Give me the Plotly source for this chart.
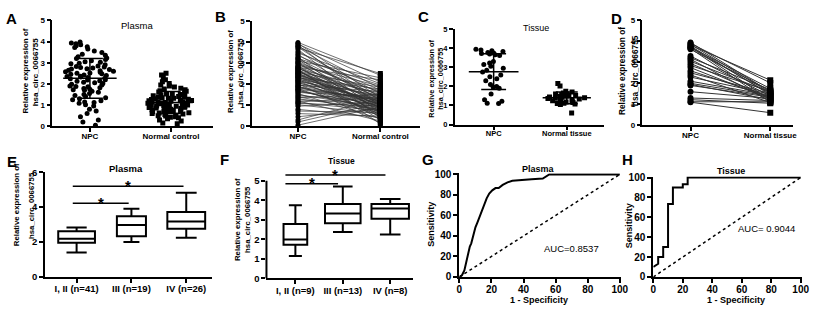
import numpy as np
import plotly.graph_objects as go

FONT = "Liberation Sans"
W, H = 824, 314

# ---------------- data ----------------
plasma_groups = ["NPC", "Normal control"]
plasma_npc = [
    3.98, 3.93, 3.90, 3.85, 3.80, 3.76, 3.72, 3.65, 3.55, 3.48,
    3.40, 3.35, 3.28, 3.22, 3.20, 3.15, 3.10, 3.05, 3.02, 2.98,
    2.95, 2.90, 2.85, 2.82, 2.80, 2.78, 2.75, 2.72, 2.68, 2.65,
    2.62, 2.58, 2.55, 2.52, 2.50, 2.46, 2.42, 2.40, 2.36, 2.33,
    2.30, 2.27, 2.24, 2.20, 2.18, 2.15, 2.12, 2.08, 2.05, 2.02,
    1.98, 1.95, 1.90, 1.86, 1.82, 1.78, 1.75, 1.70, 1.65, 1.60,
    1.55, 1.50, 1.45, 1.40, 1.35, 1.30, 1.25, 1.20, 1.15, 1.12,
    1.08, 1.02, 0.95, 2.60, 0.80, 2.35, 0.72, 1.88, 0.60, 0.45,
    0.30, 2.70, 0.20, 1.72, 0.05, 2.48,
]
plasma_normal = [
    2.42, 1.35, 2.10, 0.95, 1.80, 1.20, 2.50, 0.60, 1.55, 2.02,
    1.10, 1.72, 0.40, 1.95, 1.28, 0.85, 2.30, 1.44, 0.70, 1.62,
    1.05, 1.90, 0.52, 1.38, 2.20, 0.78, 1.15, 1.68, 0.30, 1.50,
    0.98, 1.24, 1.85, 0.62, 1.32, 1.02, 0.88, 1.58, 0.45, 1.12,
    1.76, 0.72, 1.40, 0.92, 1.18, 0.56, 1.47, 0.82, 1.26, 0.15,
    1.08, 1.65, 0.68, 0.94, 1.22, 0.50, 1.30, 0.76, 1.00, 1.42,
    0.35, 0.90, 1.16, 0.64, 1.52, 0.80, 1.06, 0.25, 1.37, 0.74,
    0.96, 0.58, 1.14, 0.86, 0.42, 1.04, 0.66, 1.20, 0.48, 0.84,
    1.32, 0.12, 1.10, 0.70, 0.92, 1.00,
]
tissue_groups = ["NPC", "Normal tissue"]
tissue_npc = [3.95, 3.90, 3.86, 3.82, 3.78, 3.75, 3.72, 3.70, 3.66, 3.62,
              3.30, 3.22, 3.15, 3.05, 2.95, 2.85, 2.75, 2.60, 2.50, 2.40,
              2.30, 2.10, 2.00, 1.95, 1.90, 1.60, 1.30, 1.22, 1.12, 1.10]
tissue_normal = [1.60, 2.02, 1.55, 2.15, 1.45, 1.20, 1.75, 1.50, 1.10, 1.65,
                 1.40, 1.70, 1.15, 1.58, 1.30, 1.62, 1.25, 1.36, 1.52, 1.08,
                 1.48, 1.43, 1.38, 1.22, 1.34, 1.28, 1.18, 1.05, 1.12, 0.60]
expr_ticks = [0, 1, 2, 3, 4, 5]

plasma_stages = ["I, II (n=41)", "III (n=19)", "IV (n=26)"]
plasma_stage_low = [1.39, 2.00, 2.24]
plasma_stage_q1 = [1.96, 2.33, 2.76]
plasma_stage_med = [2.18, 2.98, 3.17]
plasma_stage_q3 = [2.61, 3.48, 3.72]
plasma_stage_high = [2.83, 3.91, 4.83]
plasma_stage_ticks = [0, 2, 4, 6]
plasma_stage_sig = [[0, 1, 4.22], [0, 2, 5.20]]

tissue_stages = ["I, II (n=9)", "III (n=13)", "IV (n=8)"]
tissue_stage_low = [1.15, 2.38, 2.25]
tissue_stage_q1 = [1.72, 2.82, 3.05]
tissue_stage_med = [2.00, 3.32, 3.58]
tissue_stage_q3 = [2.79, 3.81, 3.81]
tissue_stage_high = [3.74, 4.71, 4.07]
tissue_stage_ticks = [0, 1, 2, 3, 4, 5]
tissue_stage_sig = [[0, 1, 4.84], [0, 2, 5.29]]

roc_ticks = [0, 20, 40, 60, 80, 100]
roc_plasma_fpr = [0, 1.6, 3.1, 4.3, 5.3, 6.5, 7.4, 8.6, 10.0, 11.2, 12.7, 14.3, 15.5, 17.0,
                  18.6, 20.5, 22.5, 24.5, 27.0, 30.0, 33.0, 38.0, 45.0, 52.0, 54.0, 56.0, 100]
roc_plasma_sens = [0, 1.6, 6.3, 14.0, 23.4, 29.7, 32.8, 40.6, 48.4, 53.0, 59.4, 65.6, 70.3, 76.6,
                   81.3, 84.4, 86.6, 86.6, 89.7, 92.2, 93.8, 94.7, 95.3, 96.0, 98.4, 100, 100]
roc_plasma_auc = "AUC=0.8537"
roc_tissue_fpr = [0, 3.3, 3.3, 6.7, 6.7, 10.0, 10.0, 13.3, 13.3, 20.0, 20.0, 23.3, 23.3, 100]
roc_tissue_sens = [10.0, 13.3, 20.0, 20.0, 30.0, 30.0, 73.3, 73.3, 90.0, 90.0, 93.3, 93.3, 100, 100]
roc_tissue_auc = "AUC= 0.9044"
roc_ref = [0, 100]

# ---------------- helpers ----------------
def px2x(p):
    return p / W


def px2y(p):
    return 1 - p / H


layout = dict(width=W, height=H, margin=dict(l=0, r=0, t=0, b=0),
              paper_bgcolor="white", plot_bgcolor="white", showlegend=False,
              boxmode="overlay", font=dict(family=FONT, color="black"),
              annotations=[], shapes=[])


def add_axes(n, xpx, ypx, xr, yr, xt, xtt, yt, fs, lw, yline=True, xstand=0):
    sx = "" if n == 1 else str(n)
    common = dict(showgrid=False, zeroline=False, ticks="outside", ticklen=4,
                  tickwidth=lw, tickcolor="black", linecolor="black", linewidth=lw,
                  tickfont=dict(family=FONT, size=fs, color="black", weight="bold"),
                  fixedrange=True)
    layout["xaxis" + sx] = dict(domain=[px2x(xpx[0]), px2x(xpx[1])], range=xr,
                                anchor="y" + sx, tickvals=xt, ticktext=xtt,
                                showline=True, ticklabelstandoff=xstand, **common)
    layout["yaxis" + sx] = dict(domain=[px2y(ypx[0]), px2y(ypx[1])], range=yr,
                                anchor="x" + sx, tickvals=yt, showline=yline, **common)


def ann(text, xp, yp, size, bold=False, angle=0, xref="paper", yref="paper", **kw):
    t = "<b>%s</b>" % text if bold else text
    x = px2x(xp) if xref == "paper" else xp
    y = px2y(yp) if yref == "paper" else yp
    d = dict(text=t, x=x, y=y, xref=xref, yref=yref, showarrow=False,
             font=dict(family=FONT, size=size, color="black"), textangle=angle,
             xanchor="center", yanchor="middle", borderpad=0)
    d.update(kw)
    layout["annotations"].append(d)


traces = []


def dot_column(xpos, vals, symbol, ax, width, size):
    traces.append(go.Box(x=[xpos] * len(vals), y=vals, orientation="v", boxpoints="all",
                         jitter=1, pointpos=0, width=width,
                         fillcolor="rgba(0,0,0,0)", line=dict(color="rgba(0,0,0,0)", width=0),
                         marker=dict(symbol=symbol, size=size, color="black"),
                         xaxis="x" + ax, yaxis="y" + ax, hoverinfo="skip"))


def mean_sd(xpos, vals, ax, mhalf, shalf, lw=1.5):
    m = float(np.mean(vals))
    s = float(np.std(vals, ddof=1))
    xs = [xpos - mhalf, xpos + mhalf, None, xpos - shalf, xpos + shalf, None,
          xpos - shalf, xpos + shalf, None, xpos, xpos]
    ys = [m, m, None, m + s, m + s, None, m - s, m - s, None, m - s, m + s]
    traces.append(go.Scatter(x=xs, y=ys, mode="lines", line=dict(color="black", width=lw),
                             xaxis="x" + ax, yaxis="y" + ax, hoverinfo="skip"))


def paired(a, b, ax, lw, msize, lcolor):
    xs, ys = [], []
    for va, vb in zip(a, b):
        xs += [0, 1, None]
        ys += [va, vb, None]
    traces.append(go.Scatter(x=xs, y=ys, mode="lines", line=dict(color=lcolor, width=lw),
                             xaxis="x" + ax, yaxis="y" + ax, hoverinfo="skip"))
    traces.append(go.Scatter(x=[0] * len(a), y=a, mode="markers",
                             marker=dict(symbol="circle", size=msize, color="black"),
                             xaxis="x" + ax, yaxis="y" + ax, hoverinfo="skip"))
    traces.append(go.Scatter(x=[1] * len(b), y=b, mode="markers",
                             marker=dict(symbol="square", size=msize, color="black"),
                             xaxis="x" + ax, yaxis="y" + ax, hoverinfo="skip"))


def stage_boxes(ax, low, q1, med, q3, high, widths):
    for i in range(len(med)):
        traces.append(go.Box(x=[i], q1=[q1[i]], median=[med[i]], q3=[q3[i]],
                             lowerfence=[low[i]], upperfence=[high[i]], width=widths[i],
                             whiskerwidth=0.55, fillcolor="white", boxpoints=False,
                             line=dict(color="black", width=2),
                             xaxis="x" + ax, yaxis="y" + ax, hoverinfo="skip"))


def sig_lines(ax, sig, start_off, end_off):
    for a, b, v in sig:
        x0, x1 = a + start_off, b + end_off
        traces.append(go.Scatter(x=[x0, x1], y=[v, v], mode="lines",
                                 line=dict(color="black", width=1.5),
                                 xaxis="x" + ax, yaxis="y" + ax, hoverinfo="skip"))
        ann("<b>*</b>", (x0 + x1) / 2, v, 15, xref="x" + ax, yref="y" + ax, yshift=1)


# ---------------- panel A ----------------
add_axes(1, (50, 213), (125, 15), [-0.463, 1.524], [0, 5], [0, 1], plasma_groups, expr_ticks, 8, 1.5, xstand=-3)
dot_column(0, plasma_npc, "circle", "", 0.62, 5)
dot_column(1, plasma_normal, "square", "", 0.62, 5)
mean_sd(0, plasma_npc, "", 0.33, 0.16)
mean_sd(1, plasma_normal, "", 0.27, 0.12)

# ---------------- panel B ----------------
add_axes(2, (252, 422), (125, 15.5), [-0.559, 1.48], [0, 5], [0, 1], plasma_groups, expr_ticks, 8, 1.5, xstand=-3)
paired(plasma_npc, plasma_normal, "2", 0.7, 5, "#333333")

# ---------------- panel C ----------------
add_axes(3, (457.3, 608), (123.3, 24), [-0.532, 1.504], [0, 5], [0, 1], tissue_groups, expr_ticks, 7.5, 1.5, xstand=-3)
dot_column(0, tissue_npc, "circle", "3", 0.55, 5)
dot_column(1, tissue_normal, "square", "3", 0.55, 5)
mean_sd(0, tissue_npc, "3", 0.34, 0.17)
mean_sd(1, tissue_normal, "3", 0.33, 0.15)

# ---------------- panel D ----------------
add_axes(4, (647.3, 800), (124, 15), [-0.603, 1.289], [0, 5], [0, 1], tissue_groups, expr_ticks, 8, 1.5, xstand=-3)
paired(tissue_npc, tissue_normal, "4", 1.0, 6, "#333333")

# ---------------- panel E ----------------
add_axes(5, (42.7, 211.7), (281.5, 173), [-0.573, 2.472], [0, 6], [0, 1, 2], plasma_stages,
         plasma_stage_ticks, 9.5, 2, xstand=-2)
stage_boxes("5", plasma_stage_low, plasma_stage_q1, plasma_stage_med, plasma_stage_q3,
            plasma_stage_high, [0.67, 0.53, 0.69])
sig_lines("5", plasma_stage_sig, -0.07, -0.05)

# ---------------- panel F ----------------
add_axes(6, (266.7, 415), (283.3, 169.5), [-0.61, 2.48], [0, 5.6], [0, 1, 2], tissue_stages,
         tissue_stage_ticks, 9.5, 2, yline=False, xstand=-2)
layout["shapes"].append(dict(type="line", xref="x6 domain", yref="y6", x0=0, x1=0,
                             y0=0, y1=tissue_stage_ticks[-1], line=dict(color="black", width=2)))
stage_boxes("6", tissue_stage_low, tissue_stage_q1, tissue_stage_med, tissue_stage_q3,
            tissue_stage_high, [0.5, 0.75, 0.79])
sig_lines("6", tissue_stage_sig, -0.21, -0.1)

# ---------------- panel G ----------------
add_axes(7, (462, 626), (281.7, 174), [0, 101], [0, 101], roc_ticks, None, roc_ticks, 10, 2, xstand=-2)
traces.append(go.Scatter(x=roc_ref, y=roc_ref, mode="lines", line=dict(color="black", width=1.5, dash="dot"),
                         xaxis="x7", yaxis="y7", hoverinfo="skip"))
traces.append(go.Scatter(x=roc_plasma_fpr, y=roc_plasma_sens, mode="lines",
                         line=dict(color="black", width=2), xaxis="x7", yaxis="y7", hoverinfo="skip"))
ann(roc_plasma_auc, 70, 28, 9.5, xref="x7", yref="y7")

# ---------------- panel H ----------------
add_axes(8, (658.3, 809), (281.7, 177.3), [0, 101], [0, 101], roc_ticks, None, roc_ticks, 10, 2, xstand=-2)
traces.append(go.Scatter(x=roc_ref, y=roc_ref, mode="lines", line=dict(color="black", width=1.5, dash="dot"),
                         xaxis="x8", yaxis="y8", hoverinfo="skip"))
traces.append(go.Scatter(x=roc_tissue_fpr, y=roc_tissue_sens, mode="lines",
                         line=dict(color="black", width=2), xaxis="x8", yaxis="y8", hoverinfo="skip"))
ann(roc_tissue_auc, 76.6, 49, 9.5, xref="x8", yref="y8")

# ---------------- text ----------------
for letter, xp, yp in [("A", 9, 13), ("B", 220, 11), ("C", 426, 11), ("D", 621, 13),
                       ("E", 9, 162), ("F", 224, 160), ("G", 430, 160), ("H", 632, 160)]:
    ann(letter, xp, yp, 15, bold=True)

ann("Plasma", 136, 20, 9.5)
ann("Tissue", 540, 23, 9)
ann("Plasma", 125, 169, 9.5, bold=True)
ann("Tissue", 343, 161, 8.5, bold=True)
ann("Plasma", 542, 169, 9, bold=True)
ann("Tissue", 737, 172, 9, bold=True)

line1, line2 = "Relative expression of", "hsa_circ_0066755"
for x1p, x2p, yp, fs in [(22.3, 32.3, 68, 8), (230, 241, 68.3, 7.8), (434, 443.3, 75.8, 7.3),
                         (626.7, 640, 67.5, 8.3), (13.3, 28.3, 207, 7.8), (236.7, 247.7, 221.7, 7.8)]:
    ann(line1, x1p, yp, fs, bold=True, angle=-90)
    ann(line2, x2p, yp, fs, bold=True, angle=-90)

ann("Sensitivity", 433, 226.7, 9, bold=True, angle=-90)
ann("Sensitivity", 633.3, 228.3, 9, bold=True, angle=-90)
ann("1 - Specificity", 543, 306, 9, bold=True)
ann("1 - Specificity", 741.7, 306, 9, bold=True)

fig = go.Figure(data=traces, layout=layout)
fig.write_html("out.html", config={"displayModeBar": False},
               post_script="document.body.style.margin='0';document.body.style.padding='0';"
                           "document.documentElement.style.overflow='hidden';")
